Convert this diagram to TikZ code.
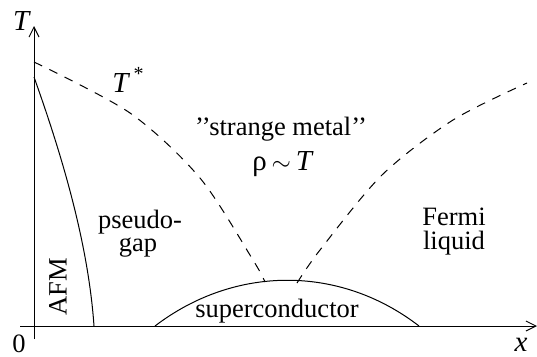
\documentclass[tikz,border=0pt]{standalone}
\usepackage{fontspec}
\setmainfont{Liberation Serif}
\usetikzlibrary{arrows.meta}
\begin{document}
\begin{tikzpicture}[x=1pt,y=-1pt,
  lbl/.style={font=\fontsize{26.5}{28}\selectfont, inner sep=0pt},
  big/.style={font=\fontsize{29}{32}\selectfont, inner sep=0pt},
  ax/.style={line width=1pt, -{Straight Barb[length=10pt,width=10pt]}},
  crv/.style={line width=1pt},
  dsh/.style={line width=1pt, dash pattern=on 9pt off 8pt}]
\useasboundingbox (0,0) rectangle (537,356);
% axes
\coordinate (xs) at (20,326);
\coordinate (xe) at (537,326);
\coordinate (ys) at (34,339);
\coordinate (ye) at (34,26);
\draw[ax] (xs) -- (xe);
\draw[ax] (ys) -- (ye);
% AFM boundary
\coordinate (a0) at (34,77);
\coordinate (a1) at (94,326);
\draw[crv] (a0) .. controls (60,150) and (88,240) .. (a1);
% superconducting dome
\coordinate (s0) at (155,326);
\coordinate (s1) at (419,326);
\draw[crv] (s0) .. controls (235,265) and (340,265) .. (s1);
% T* crossover
\draw[dsh] plot[smooth] coordinates {(34,62) (130,113) (200,178) (253,260) (265,282)};
% Fermi liquid crossover
\draw[dsh] plot[smooth] coordinates {(297,283) (320,250) (382,175) (453,120) (527,83)};
% labels
\node[big] (lT) at (22,21) {\textit{T}};
\node[lbl] (l0) at (19,344) {0};
\node[big] (lx) at (521,345) {\textit{x}};
\node[big] (lTs) at (128,80) {\textit{T}\raisebox{0.42em}{\fontsize{20}{20}\selectfont\,*}};
\node[lbl, anchor=base] (lsm) at (281,135) {\textquoteright\textquoteright strange metal\textquoteright\textquoteright};
\node[big, anchor=base] (lrho) at (283,170) {ρ\,$\sim$\,\textit{T}};
\node[lbl, anchor=base] (lps) at (140,228) {pseudo-};
\node[lbl, anchor=base] (lgap) at (138,251) {gap};
\node[lbl, anchor=base] (lfe) at (454,225) {Fermi};
\node[lbl, anchor=base] (lli) at (454,249) {liquid};
\node[lbl, anchor=base] (lsc) at (277,317) {superconductor};
\node[lbl, rotate=90] (lafm) at (58,287) {AFM};
\end{tikzpicture}
\end{document}
